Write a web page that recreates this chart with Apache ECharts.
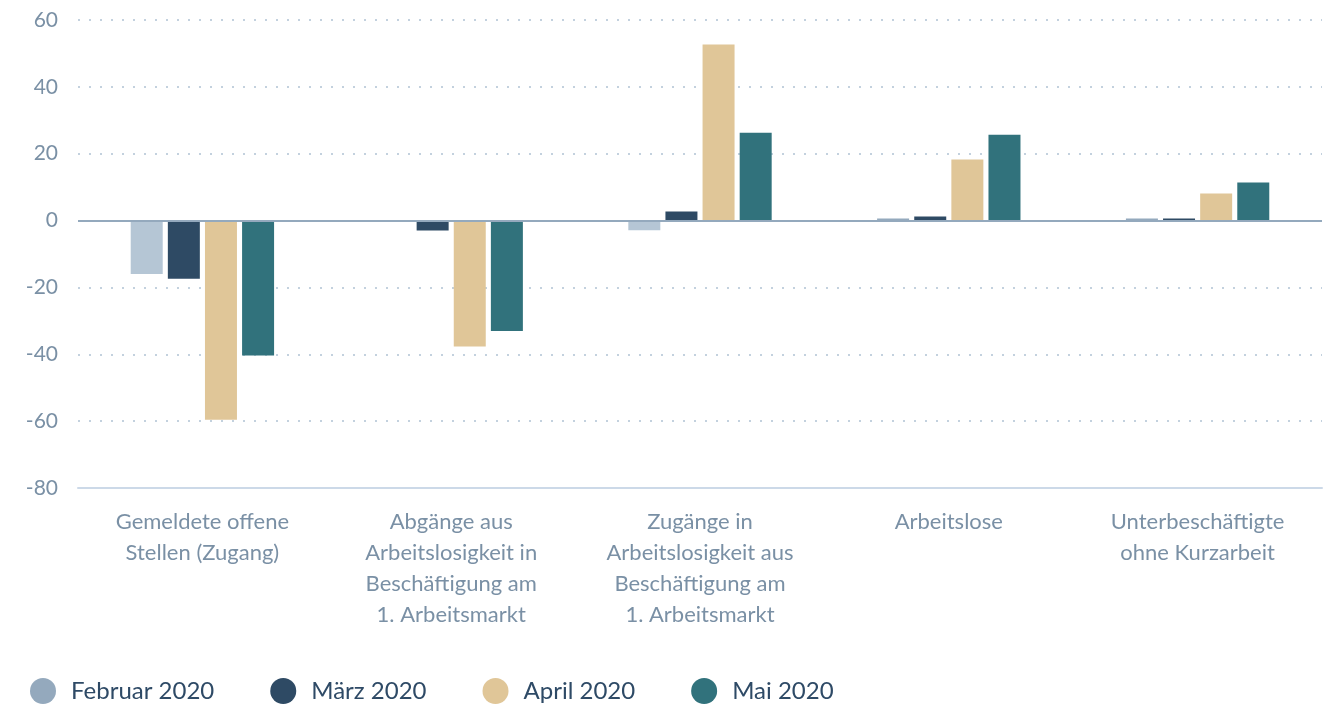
<!DOCTYPE html>
<html><head><meta charset="utf-8">
<script src="https://cdn.jsdelivr.net/npm/echarts@6/dist/echarts.min.js"></script>
<style>html,body{margin:0;padding:0;background:#fff}#c{width:1329px;height:706px}</style>
</head><body><div id="c"></div>
<script>
const categories = [
  "Gemeldete offene\nStellen (Zugang)",
  "Abgänge aus\nArbeitslosigkeit in\nBeschäftigung am\n1. Arbeitsmarkt",
  "Zugänge in\nArbeitslosigkeit aus\nBeschäftigung am\n1. Arbeitsmarkt",
  "Arbeitslose",
  "Unterbeschäftigte\nohne Kurzarbeit"
];
const seriesNames = ["Februar 2020", "März 2020", "April 2020", "Mai 2020"];
const februar = [-16, 0, -2.9, 0.6, 0.6];
const maerz = [-17.4, -3, 2.7, 1.2, 0.6];
const april = [-59.6, -37.7, 52.7, 18.3, 8.1];
const mai = [-40.4, -33, 26.3, 25.7, 11.4];
const yTicks = [-80, -60, -40, -20, 0, 20, 40, 60];

const colors = ["#94a9bd", "#2e4a64", "#e0c698", "#31727c"];
const font = "Lato, 'Source Sans Pro', sans-serif";
const allData = [februar, maerz, april, mai];

const series = allData.map((d, i) => ({
  name: seriesNames[i],
  type: "bar",
  data: d,
  barWidth: 32,
  barGap: "16%",
  itemStyle: {
    color: i === 0 ? (p => p.value < 0 ? "#b5c6d5" : "#94a9bd") : colors[i]
  },
  emphasis: { disabled: true },
  markLine: i === 0 ? {
    silent: true, symbol: "none", label: { show: false },
    lineStyle: { color: "#94a9bd", width: 2, type: "solid" },
    data: [{ yAxis: 0 }]
  } : undefined
}));

const chart = echarts.init(document.getElementById("c"));
chart.setOption({
  animation: false,
  color: colors,
  grid: { left: 78, right: 7, top: 20, bottom: 218 },
  legend: {
    left: 25, top: 673,
    icon: "circle", itemWidth: 26, itemHeight: 26, itemGap: 56,
    textStyle: { color: "#2e4a66", fontSize: 24, fontFamily: font, padding: [0, 0, 0, 10] },
    data: seriesNames
  },
  xAxis: {
    type: "category",
    data: categories,
    axisLine: { onZero: false, lineStyle: { color: "#ccd9e8", width: 2 } },
    axisTick: { show: false },
    axisLabel: { color: "#7a90a5", fontSize: 22, lineHeight: 31, fontFamily: font, margin: 18, interval: 0 }
  },
  yAxis: {
    type: "value", min: -80, max: 60, interval: 20,
    axisLine: { show: false }, axisTick: { show: false },
    axisLabel: { color: "#7a90a5", fontSize: 21, fontFamily: font, margin: 20,
      formatter: v => yTicks.includes(v) ? String(v) : "" },
    splitLine: { lineStyle: { color: "#c3d1de", type: [2, 9], width: 2 } }
  },
  series: series
});
</script></body></html>
